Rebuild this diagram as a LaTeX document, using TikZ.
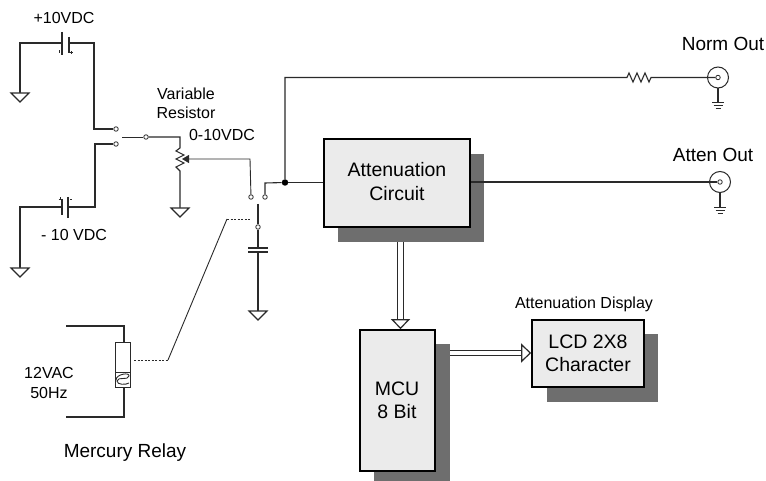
\documentclass[tikz,border=0pt]{standalone}
\usepackage{fontspec}
\setmainfont{Liberation Sans}
\usetikzlibrary{arrows.meta,calc}
\definecolor{wirecol}{HTML}{2A2A2A}
\definecolor{boxfill}{HTML}{EBEBEB}
\definecolor{shadowcol}{HTML}{6E6E6E}
\newcommand{\fsz}[1]{\fontsize{#1}{#1}\selectfont}
\tikzset{
  wire/.style={draw=wirecol,line width=1.1pt},
  thinwire/.style={draw=wirecol,line width=0.9pt},
  dashwire/.style={draw=wirecol,line width=0.9pt,dash pattern=on 2pt off 1.5pt},
  term/.style={circle,draw=wirecol,line width=0.8pt,fill=white,inner sep=0pt,minimum size=4.5pt},
  jdot/.style={circle,fill=black,inner sep=0pt,minimum size=6.5pt},
  mainbox/.style={rectangle,draw=black,line width=1.7pt,fill=boxfill,inner sep=0pt,align=center},
  shadowbox/.style={rectangle,fill=shadowcol,inner sep=0pt},
  lab/.style={text=black,inner sep=0pt,align=center,font=\fsz{16}},
  biglab/.style={text=black,inner sep=0pt,align=center,font=\fsz{19}},
  boxlab/.style={text=black,inner sep=0pt,align=center,font=\fsz{19.5}},
  blockarrow/.style={draw=wirecol,line width=1.2pt,double=white,double distance=4.5pt,
    -{Triangle[open,fill=white,length=10pt,width=19pt,line width=1.2pt]}},
  gndtri/.pic={\draw[wire,fill=white] (-9,0) -- (9,0) -- (0,9) -- cycle;},
  earth/.pic={\draw[thinwire] (-6,0) -- (6,0) (-4.5,3) -- (4.5,3) (-2.5,6) -- (2.5,6);},
}
\begin{document}
\begin{tikzpicture}[x=1pt,y=-1pt]
\useasboundingbox (0,0) rectangle (766,481);
\fill[white] (0,0) rectangle (766,481);

% shadows
\node[shadowbox,minimum width=146pt,minimum height=88pt] (mainshadow) at (411,198) {};
\node[shadowbox,minimum width=76pt,minimum height=137pt] (mcushadow) at (412,412.5) {};
\node[shadowbox,minimum width=111pt,minimum height=68pt] (lcdshadow) at (602.5,368) {};
% boxes
\node[mainbox,minimum width=146pt,minimum height=88pt] (atten) at (397,183) {};
\node[mainbox,minimum width=75pt,minimum height=141pt] (mcu) at (397.5,400.5) {};
\node[mainbox,minimum width=112pt,minimum height=67pt] (lcd) at (588,353.5) {};

% box texts
\node[boxlab] (t1) at (397,170) {Attenuation};
\node[boxlab] (t2) at (397,194) {Circuit};
\node[boxlab] (t3) at (397,389) {MCU};
\node[boxlab] (t4) at (397,412) {8 Bit};
\node[boxlab] (t5) at (588,342) {LCD 2X8};
\node[boxlab] (t6) at (588,365) {Character};

% block arrows
\coordinate (a1s) at (400.5,242);
\draw[blockarrow] (a1s) -- (a1s |- mcu.north);
\coordinate (a2s) at (450,353);
\draw[blockarrow] (a2s) -- (a2s -| lcd.west);

% labels
\node[lab] (lplus) at (64,18) {+10VDC};
\node[lab] (lminus) at (74,235) {- 10 VDC};
\node[lab] (lvar) at (186,94) {Variable};
\node[lab] (lres) at (186,113) {Resistor};
\node[lab] (lzero) at (222,135) {0-10VDC};
\node[lab] (l12) at (49,373) {12VAC};
\node[lab] (l50) at (49,393) {50Hz};
\node[biglab] (lmerc) at (125,453) {Mercury Relay};
\node[biglab] (lnorm) at (723,44) {Norm Out};
\node[biglab] (latten) at (713,155) {Atten Out};
\node[lab] (ldisp) at (584,304) {Attenuation Display};

% coordinates
\coordinate (g1) at (20,93);
\coordinate (g2) at (20,268);
\coordinate (g3) at (180,208);
\coordinate (g4) at (258,311);
\coordinate (bat1a) at (62,43);
\coordinate (bat1b) at (69,43);
\coordinate (bat2a) at (62,207);
\coordinate (bat2b) at (68,207);

% terminals
\node[term] (s1) at (116,129) {};
\node[term] (s2) at (116,144) {};
\node[term] (s3) at (146,137) {};
\node[term] (s4) at (251,197) {};
\node[term] (s5) at (265,197) {};
\node[term] (s6) at (258,227) {};
\node[jdot] (junc) at (285,182.5) {};
\coordinate (blade1) at (122,137);
\coordinate (blade2) at (258,204);

% BNC connectors
\node[circle,draw=wirecol,line width=1pt,fill=white,inner sep=0pt,minimum size=21pt] (bnc1) at (718,77.5) {};
\node[circle,draw=wirecol,line width=1pt,fill=white,inner sep=0pt,minimum size=21pt] (bnc2) at (720,182) {};
\node[circle,draw=wirecol,line width=0.8pt,fill=white,inner sep=0pt,minimum size=4.5pt] (bnc1i) at (718,77.5) {};
\node[circle,draw=wirecol,line width=0.8pt,fill=white,inner sep=0pt,minimum size=4.5pt] (bnc2i) at (720,182) {};

% batteries
\draw[wire,line width=1.3pt] ($(bat1a)+(0,-11)$) -- ($(bat1a)+(0,12)$);
\draw[wire,line width=1.3pt] ($(bat1b)+(0,-6)$) -- ($(bat1b)+(0,10)$);
\draw[wire,line width=1.3pt] ($(bat2b)+(0,-10)$) -- ($(bat2b)+(0,11)$);
\draw[wire,line width=1.3pt] ($(bat2a)+(0,-8)$) -- ($(bat2a)+(0,8)$);
\draw[thinwire] (59,50.5) -- (59,53);
\draw[thinwire] (69.5,52.5) -- (72.5,52.5) (71,51) -- (71,54);
\draw[thinwire] (70,199) -- (72,199);
\draw[thinwire] (58.5,199) -- (61.5,199) (60,197.5) -- (60,200.5);

% wiring, left
\draw[wire] (bat1a) -| (g1);
\draw[wire] (bat1b) -| (94,129) -- (s1);
\draw[wire] (bat2a) -| (g2);
\draw[wire] (bat2b) -| (95,144) -- (s2);
\draw[thinwire] (blade1) -- (s3);
\draw[wire] (s3) -- (180,137) -- (180,148) -- (176,151) -- (184,155) -- (176,159) -- (184,163) -- (176,167) -- (180,171) -- (g3);
\draw[thinwire,-{Triangle[length=7pt,width=8pt]}] (s4) -- (250,159) -- (182,159);
\draw[wire] (s5) -- (265,183) -- (junc);
\draw[wire] (junc) -- (atten.west |- junc);
\draw[wire] (junc) -- (285,77.5) -- (627,77.5) -- (629,73) -- (633,82) -- (637,73) -- (641,82) -- (645,73) -- (649,82) -- (651,77.5) -- (bnc1i);
\draw[wire] (atten.east |- bnc2) -- (bnc2i);
\draw[wire] (bnc1) -- (718,102);
\draw[wire] (bnc2) -- (720,207);
\pic at (718,102) {earth};
\pic at (720,207) {earth};

% output switch and capacitor
\draw[wire] (blade2) -- (s6);
\draw[wire] (s6) -- (258,248);
\draw[wire,line width=1.3pt] (248,248) -- (268,248) (248,252) -- (268,252);
\draw[wire] (258,252) -- (g4);

% grounds
\pic at (g1) {gndtri};
\pic at (g2) {gndtri};
\pic at (g3) {gndtri};
\pic at (g4) {gndtri};

% relay
\node[rectangle,draw=wirecol,line width=1pt,fill=white,inner sep=0pt,minimum width=15pt,minimum height=45pt] (relay) at (122.5,364.5) {};
\draw[thinwire] (115,372) -- (130,372);
\draw[thinwire] (116,380) .. controls (116,374) and (130,372) .. (129,376) .. controls (128,381) and (118,376) .. (117,381) .. controls (117,385) and (126,385) .. (129,383);
\coordinate (v1) at (66,326);
\coordinate (v2) at (66,417);
\draw[wire] (v1) -| (relay.north -| 124,0);
\draw[wire] (v2) -| (relay.south -| 124,0);

% mechanical link
\coordinate (link1) at (134,360);
\coordinate (link2) at (168,360);
\coordinate (link3) at (227,219);
\coordinate (link4) at (250,219);
\draw[dashwire] (link1) -- (link2);
\draw[thinwire] (link2) -- (link3);
\draw[dashwire] (link3) -- (link4);
\end{tikzpicture}
\end{document}
